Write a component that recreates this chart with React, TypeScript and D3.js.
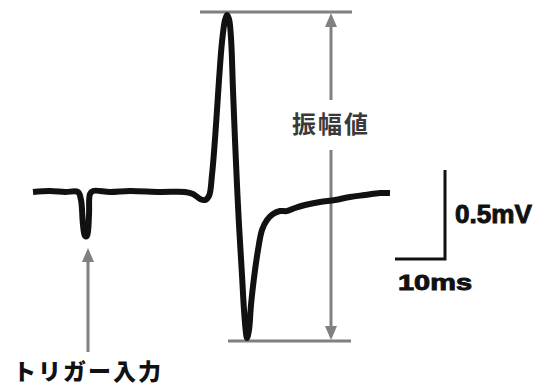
import React from 'react';
import * as d3 from 'd3';

// waveform: time (ms, 0 = trigger) and voltage (mV)
const timeMs = [
  -10.6, -7.2, -4.2, -1.6, -1.0, -0.6, -0.2, 0.2, 0.6, 0.8, 1.4, 4.8, 8.8, 14.8, 19.8,
  21.4, 22.8, 23.8, 24.6, 25.2, 26.0, 26.6, 27.2, 27.8, 28.2, 28.6, 29.0, 29.4, 29.8,
  30.2, 30.6, 31.2, 31.6, 32.0, 32.2, 32.6, 33.0, 33.6, 34.4, 35.2, 36.2, 37.4, 38.8,
  40.2, 41.8, 43.8, 46.8, 49.8, 52.8, 55.8, 58.8, 60.8,
];
const voltMv = [
  0, 0.006, 0, 0, -0.045, -0.185, -0.247, -0.247, -0.129, -0.011, 0.006, 0, 0.006, 0, 0,
  -0.011, -0.039, -0.045, -0.022, 0.096, 0.376, 0.629, 0.843, 0.966, 0.994, 0.972, 0.865, 0.573, 0.292,
  0.039, -0.185, -0.466, -0.663, -0.792, -0.82, -0.775, -0.635, -0.483, -0.326, -0.213, -0.157, -0.124, -0.107,
  -0.107, -0.09, -0.073, -0.056, -0.045, -0.028, -0.017, -0.006, -0.006,
];

const scaleBarMs = 10;
const scaleBarMv = 0.5;
const labels = {
  amplitude: '振幅値',
  trigger: 'トリガー入力',
  time: '10ms',
  volt: '0.5mV',
};

const W = 542;
const H = 387;
const GRAY = '#808080';

export default function App() {
  const x = d3.scaleLinear().domain([0, 10]).range([86, 136]);
  const y = d3.scaleLinear().domain([0, 0.5]).range([192, 103]);

  const pts: [number, number][] = timeMs.map((t, i) => [t, voltMv[i]]);
  const line = d3
    .line<[number, number]>()
    .x((d) => x(d[0]))
    .y((d) => y(d[1]))
    .curve(d3.curveCatmullRom.alpha(0.5));

  const vMax = d3.max(voltMv) as number;
  const vMin = d3.min(voltMv) as number;
  const topY = y(vMax) - 3;
  const botY = y(vMin) + 3;
  const ampX = 331;

  // trigger point = minimum before the response
  const trigX = x(0) + 2;
  const trigTip = y(-0.247) + 12;

  // scale bar corner
  const sbX = 445;
  const sbY = 259;
  const sbW = x(scaleBarMs) - x(0);
  const sbH = y(0) - y(scaleBarMv);

  const head = (tx: number, ty: number, dir: 1 | -1) =>
    `M${tx},${ty} L${tx - 6},${ty + dir * 14} L${tx + 6},${ty + dir * 14} Z`;

  const bold = { stroke: '#111', strokeWidth: 0.9, paintOrder: 'stroke' as const };

  return (
    <svg
      width={W}
      height={H}
      style={{ position: 'absolute', left: 0, top: 0, background: '#fff' }}
    >
      {/* amplitude guides */}
      <line x1={200} x2={352} y1={topY} y2={topY} stroke={GRAY} strokeWidth={3} />
      <line x1={228} x2={351} y1={botY} y2={botY} stroke={GRAY} strokeWidth={3} />
      <line x1={ampX} x2={ampX} y1={topY + 12} y2={100} stroke={GRAY} strokeWidth={3} />
      <line x1={ampX} x2={ampX} y1={150} y2={botY - 12} stroke={GRAY} strokeWidth={3} />
      <path d={head(ampX, topY + 1, 1)} fill={GRAY} />
      <path d={head(ampX, botY - 1, -1)} fill={GRAY} />
      <text
        x={ampX}
        y={122}
        textAnchor="middle"
        dominantBaseline="central"
        fontFamily="'Noto Sans CJK JP', sans-serif"
        fontWeight={700}
        fontSize={24}
        letterSpacing={2}
        fill="#3a3a3a"
      >
        {labels.amplitude}
      </text>

      {/* trigger arrow */}
      <line x1={trigX} x2={trigX} y1={trigTip + 12} y2={352} stroke={GRAY} strokeWidth={3} />
      <path d={head(trigX, trigTip, 1)} fill={GRAY} />
      <text
        x={13}
        y={370}
        dominantBaseline="central"
        fontFamily="'Noto Sans CJK JP', sans-serif"
        fontWeight={900}
        fontSize={23}
        letterSpacing={2}
        fill="#111"
      >
        {labels.trigger}
      </text>

      {/* waveform */}
      <path
        d={line(pts) ?? ''}
        fill="none"
        stroke="#111"
        strokeWidth={6}
        strokeLinejoin="round"
        strokeLinecap="butt"
      />

      {/* scale bar */}
      <path
        d={`M${sbX},${sbY - sbH} L${sbX},${sbY} L${sbX - sbW},${sbY}`}
        fill="none"
        stroke="#111"
        strokeWidth={3}
      />
      <text
        x={455}
        y={223}
        fontFamily="'Liberation Sans', Arial, sans-serif"
        fontWeight={700}
        fontSize={25}
        textLength={77}
        lengthAdjust="spacingAndGlyphs"
        fill="#111"
        {...bold}
      >
        {labels.volt}
      </text>
      <text
        x={398}
        y={290}
        fontFamily="'Liberation Sans', Arial, sans-serif"
        fontWeight={700}
        fontSize={22}
        textLength={74}
        lengthAdjust="spacingAndGlyphs"
        fill="#111"
        {...bold}
      >
        {labels.time}
      </text>
    </svg>
  );
}
